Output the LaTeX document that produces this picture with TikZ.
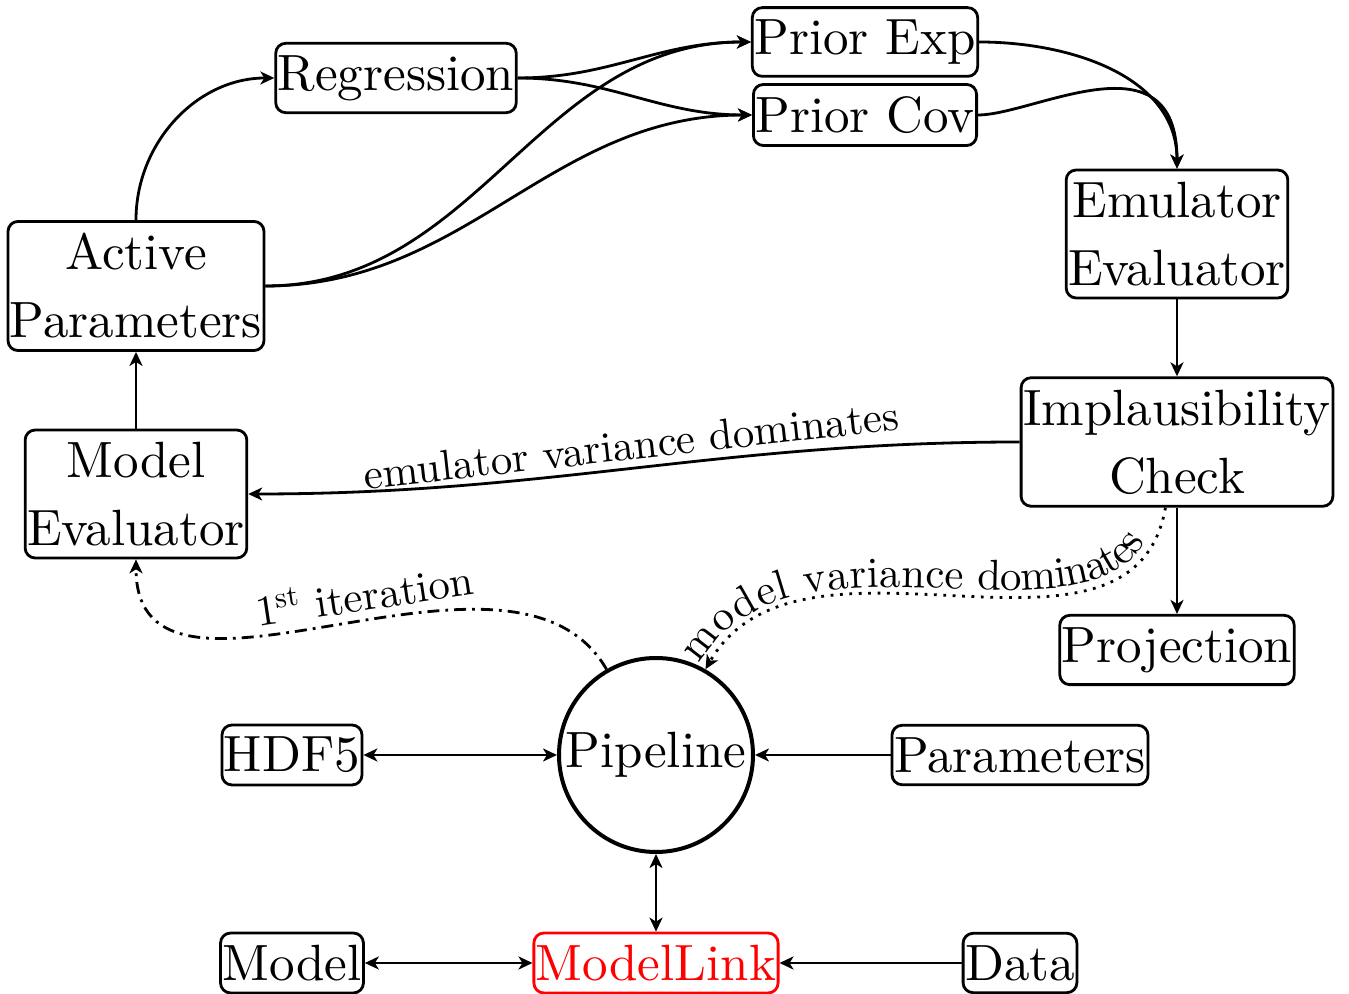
\documentclass[tikz,border=0pt]{standalone}
\usepackage{fontspec}
\setmainfont{lmroman10-regular.otf}
\usepackage{tikz}
\usetikzlibrary{shapes.geometric, arrows, arrows.meta, decorations.text}
\tikzstyle{block} = [rectangle, rounded corners=5pt, inner xsep=1pt, inner ysep=6pt, align=center, draw=black, line width=1.4pt]
\tikzstyle{hub} = [circle, minimum size=97pt, inner sep=0pt, draw=black, line width=2pt]
\tikzstyle{arrow} = [line width=1.4pt,->,>={Stealth[length=7pt,width=6.5pt,inset=2pt]}]
\tikzstyle{biarrow} = [line width=1.4pt,<->,>={Stealth[length=7pt,width=6.5pt,inset=2pt]}]
\tikzstyle{lbl} = [font=\fontsize{21.4}{26}\selectfont]

\begin{document}
\begin{tikzpicture}[node distance=104pt, font=\fontsize{25.5}{34}\selectfont]
        \useasboundingbox (-328pt,-119.5pt) rectangle (346.5pt,377.5pt);
        \node (pl) [hub] at (0,0) {Pipeline};
        \node (hdf) [block, left of=pl, xshift=-78pt] {HDF5};
        \node (par) [block, right of=pl, xshift=78pt] {Parameters};
        \node (ml) [block, below of=pl, draw=red, text=red] {ModelLink};
        \node (mdl) [block, left of=ml, xshift=-78pt] {Model};
        \node (dat) [block, right of=ml, xshift=78pt] {Data};
        \node (me) [block] at (-260pt,130.5pt) {Model\\Evaluator};
        \node (ap) [block, above of=me] {Active\\Parameters};
        \node (reg) [block] at (-130pt,338.5pt) {Regression};
        \node (pe) [block] at (104.5pt,356.5pt) {Prior Exp};
        \node (pc) [block] at (104.5pt,320pt) {Prior Cov};
        \node (ee) [block] at (260.5pt,260.5pt) {Emulator\\Evaluator};
        \node (ic) [block, below of=ee] {Implausibility\\Check};
        \node (proj) [block, below of=ic] {Projection};

        \draw [arrow] (me) -- (ap);
        \draw [arrow] (ap.north) to[out=90,in=180] (reg.west);
        \draw [arrow] (reg.east) to[out=0,in=180] (pe.west);
        \draw [arrow] (reg.east) to[out=0,in=180] (pc.west);
        \draw [arrow] (ap.east) to[out=0,in=180] (pe.west);
        \draw [arrow] (ap.east) to[out=0,in=180] (pc.west);
        \draw [arrow] (pe.east) to[out=0,in=90] (ee.north);
        \draw [arrow] (pc.east) to[out=0,in=90,out looseness=0.7,in looseness=1.7] (ee.north);
        \draw [arrow] (ee) -- (ic);
        \draw [arrow] (ic) -- (proj);
        \draw [arrow] (ic.west) to[out=180,in=0] node[lbl, above, sloped] {emulator variance dominates} (me.east);
        \draw [arrow, dash pattern=on 1.4pt off 3.3pt] (ic) to[out=-100,in=60] (pl);
        \path [decorate, decoration={text along path, raise=4pt, text={|\fontsize{21.4}{26}\selectfont|model variance dominates}}] (pl) to[out=60,in=-100] (ic);
        \draw [arrow, dash pattern=on 6pt off 3pt on 1.4pt off 3pt] (pl) to[out=120,in=-90] node[lbl, above, sloped, pos=0.45] {1\textsuperscript{st} iteration} (me.south);
        \draw [biarrow] (hdf) -- (pl);
        \draw [arrow] (par) -- (pl);
        \draw [biarrow] (pl) -- (ml);
        \draw [biarrow] (mdl) -- (ml);
        \draw [arrow] (dat) -- (ml);
\end{tikzpicture}
\end{document}
